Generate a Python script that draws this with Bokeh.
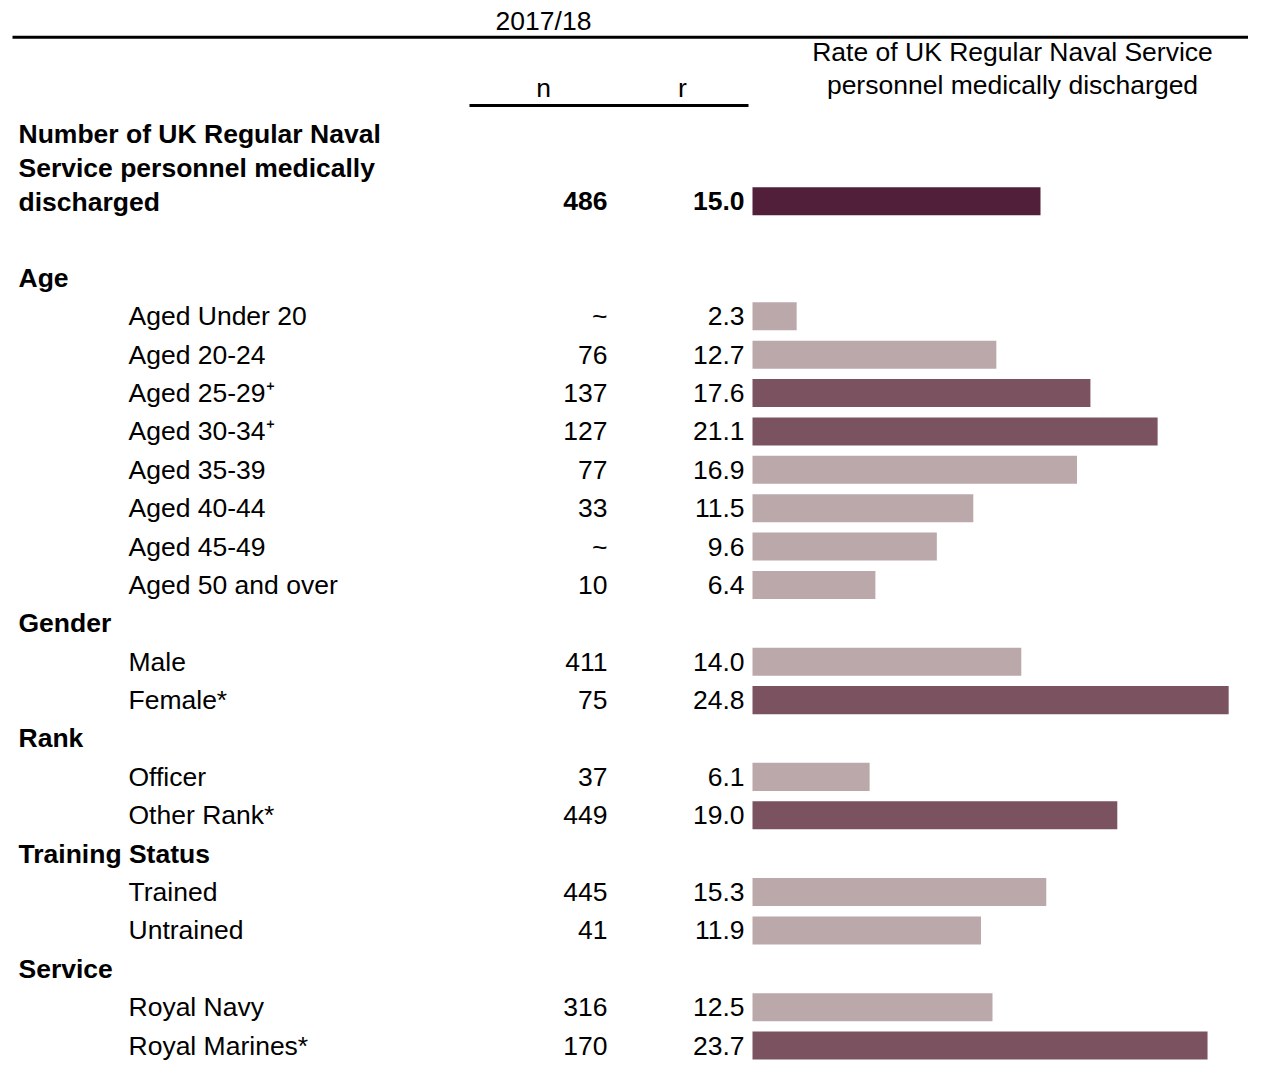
from bokeh.plotting import figure
from bokeh.models import Range1d, ColumnDataSource
from bokeh.core.properties import value
from bokeh.embed import file_html
from bokeh.resources import INLINE

# ---------------- data ----------------
total_label_lines = ["Number of UK Regular Naval", "Service personnel medically", "discharged"]

row_labels = ["", "", "Age", "Aged Under 20", "Aged 20-24", "Aged 25-29\u207a", "Aged 30-34\u207a",
              "Aged 35-39", "Aged 40-44", "Aged 45-49", "Aged 50 and over",
              "Gender", "Male", "Female*",
              "Rank", "Officer", "Other Rank*",
              "Training Status", "Trained", "Untrained",
              "Service", "Royal Navy", "Royal Marines*"]
row_kind = ["total", "blank", "header", "item", "item", "item", "item",
            "item", "item", "item", "item",
            "header", "item", "item",
            "header", "item", "item",
            "header", "item", "item",
            "header", "item", "item"]
n_values = ["486", "", "", "~", "76", "137", "127", "77", "33", "~", "10",
            "", "411", "75", "", "37", "449", "", "445", "41", "", "316", "170"]
r_values = [15.0, None, None, 2.3, 12.7, 17.6, 21.1, 16.9, 11.5, 9.6, 6.4,
            None, 14.0, 24.8, None, 6.1, 19.0, None, 15.3, 11.9, None, 12.5, 23.7]
significant = [False, False, False, False, False, True, True, False, False, False, False,
               False, False, True, False, False, True, False, False, False, False, False, True]

col_year = "2017/18"
col_n = "n"
col_r = "r"
rate_title = ["Rate of UK Regular Naval Service", "personnel medically discharged"]

# ---------------- styles ----------------
FONT = value("Liberation Sans")
FS = "26.5px"
C_TOTAL = "#521f3b"
C_SIG = "#7a5260"
C_NS = "#bba8ab"

p = figure(width=1248, height=1061,
           x_range=Range1d(-39.1667, 25.8333), y_range=Range1d(22.416, -5.229),
           output_backend="svg", toolbar_location=None, min_border=0,
           x_axis_location=None, y_axis_location=None)
p.grid.visible = False
p.outline_line_color = None
p.extra_x_ranges = {"px": Range1d(0, 1248)}
p.extra_y_ranges = {"py": Range1d(1061, 0)}

# bars
bar_y, bar_r, bar_c = [], [], []
for i, (r, k, s) in enumerate(zip(r_values, row_kind, significant)):
    if r is None:
        continue
    bar_y.append(i)
    bar_r.append(r)
    bar_c.append(C_TOTAL if k == "total" else (C_SIG if s else C_NS))
p.hbar(y=bar_y, left=0, right=bar_r, height=0.73, fill_color=bar_c, line_color=None)

# row labels
hdr = ColumnDataSource(dict(y=[i for i, k in enumerate(row_kind) if k == "header"],
                            t=[row_labels[i] for i, k in enumerate(row_kind) if k == "header"]))
itm = ColumnDataSource(dict(y=[i for i, k in enumerate(row_kind) if k == "item"],
                            t=[row_labels[i] for i, k in enumerate(row_kind) if k == "item"]))
p.text(x=18, y="y", text="t", source=hdr, x_range_name="px", text_font=FONT,
       text_font_size=FS, text_font_style="bold", text_baseline="middle", text_align="left")
p.text(x=128, y="y", text="t", source=itm, x_range_name="px", text_font=FONT,
       text_font_size=FS, text_baseline="middle", text_align="left")

# total label (3 lines)
p.text(x=[18, 18, 18], y=[133.8, 167.4, 201.1], text=total_label_lines, x_range_name="px", y_range_name="py",
       text_font=FONT, text_font_size=FS, text_font_style="bold", text_baseline="middle", text_align="left")

# n and r columns
for bold in (True, False):
    ys = [i for i, k in enumerate(row_kind) if (k == "total") == bold and n_values[i] != ""]
    src = ColumnDataSource(dict(y=ys, n=[n_values[i] for i in ys],
                                r=["%.1f" % r_values[i] for i in ys]))
    style = "bold" if bold else "normal"
    p.text(x=607, y="y", text="n", source=src, x_range_name="px", text_font=FONT,
           text_font_size=FS, text_font_style=style, text_baseline="middle", text_align="right")
    p.text(x=744, y="y", text="r", source=src, x_range_name="px", text_font=FONT,
           text_font_size=FS, text_font_style=style, text_baseline="middle", text_align="right")

# header texts
p.text(x=[543, 543, 682, 1012, 1012], y=[20, 87.3, 87.3, 51.7, 84.3],
       text=[col_year, col_n, col_r] + rate_title, x_range_name="px", y_range_name="py",
       text_font=FONT, text_font_size=FS, text_baseline="middle", text_align="center")

# rules
p.segment(x0=[12, 469], y0=[36.8, 105.1], x1=[1248, 748], y1=[36.8, 105.1],
          x_range_name="px", y_range_name="py", line_width=3, line_color="black")

open("out.html", "w").write(file_html(p, INLINE))
